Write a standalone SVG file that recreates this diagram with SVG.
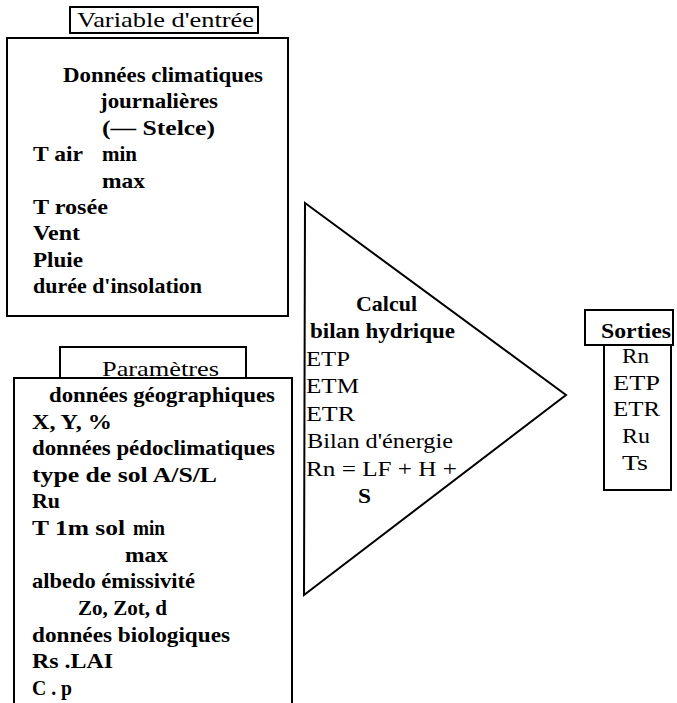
<svg xmlns="http://www.w3.org/2000/svg" width="677" height="703" viewBox="0 0 677 703">
<style>
 .box{fill:none;stroke:#000;stroke-width:2}
 .t{font-size:22px;fill:#000}
 .b{font-weight:bold}
</style>
<rect width="677" height="703" fill="#fff"/>
<g id="entree" font-family="'Liberation Serif', 'Times New Roman', 'DejaVu Serif', serif">
 <rect class="box" x="70" y="7" width="188" height="26"/>
 <text class="t" x="77" y="27" textLength="177" lengthAdjust="spacingAndGlyphs">Variable  d'entrée</text>
 <rect class="box" x="7" y="38" width="281" height="278"/>
 <text class="t b" x="63" y="82" textLength="200" lengthAdjust="spacingAndGlyphs">Données climatiques</text>
 <text class="t b" x="100" y="108" textLength="118" lengthAdjust="spacingAndGlyphs">journalières</text>
 <text class="t b" x="102" y="135" textLength="113" lengthAdjust="spacingAndGlyphs">(— Stelce)</text>
 <text class="t b" x="33" y="161" textLength="50" lengthAdjust="spacingAndGlyphs">T air</text>
 <text class="t b" x="102" y="161" textLength="35" lengthAdjust="spacingAndGlyphs">min</text>
 <text class="t b" x="102" y="188" textLength="43" lengthAdjust="spacingAndGlyphs">max</text>
 <text class="t b" x="33" y="214" textLength="75" lengthAdjust="spacingAndGlyphs">T rosée</text>
 <text class="t b" x="33" y="240" textLength="47" lengthAdjust="spacingAndGlyphs">Vent</text>
 <text class="t b" x="33" y="267" textLength="50" lengthAdjust="spacingAndGlyphs">Pluie</text>
 <text class="t b" x="33" y="293" textLength="169" lengthAdjust="spacingAndGlyphs">durée d'insolation</text>
</g>
<g id="parametres" font-family="'Liberation Serif', 'Times New Roman', 'DejaVu Serif', serif">
 <rect class="box" x="60" y="347" width="186" height="31"/>
 <text class="t" x="102" y="376" textLength="117" lengthAdjust="spacingAndGlyphs">Paramètres</text>
 <path class="box" d="M14,706 V378 H292 V706"/>
 <text class="t b" x="49" y="402" textLength="226" lengthAdjust="spacingAndGlyphs">données géographiques</text>
 <text class="t b" x="32" y="429" textLength="80" lengthAdjust="spacingAndGlyphs">X, Y, %</text>
 <text class="t b" x="32" y="455" textLength="243" lengthAdjust="spacingAndGlyphs">données pédoclimatiques</text>
 <text class="t b" x="32" y="482" textLength="185" lengthAdjust="spacingAndGlyphs">type de sol A/S/L</text>
 <text class="t b" x="32" y="508" textLength="28" lengthAdjust="spacingAndGlyphs">Ru</text>
 <text class="t b" x="32" y="535" textLength="93" lengthAdjust="spacingAndGlyphs">T 1m sol</text>
 <text class="t b" x="133" y="535" textLength="32" lengthAdjust="spacingAndGlyphs">min</text>
 <text class="t b" x="125" y="562" textLength="43" lengthAdjust="spacingAndGlyphs">max</text>
 <text class="t b" x="32" y="588" textLength="163" lengthAdjust="spacingAndGlyphs">albedo émissivité</text>
 <text class="t b" x="78" y="615" textLength="89" lengthAdjust="spacingAndGlyphs">Zo, Zot, d</text>
 <text class="t b" x="32" y="642" textLength="198" lengthAdjust="spacingAndGlyphs">données biologiques</text>
 <text class="t b" x="32" y="668" textLength="81" lengthAdjust="spacingAndGlyphs">Rs  .LAI</text>
 <text class="t b" x="32" y="695" textLength="40" lengthAdjust="spacingAndGlyphs">C . p</text>
</g>
<g id="calcul" font-family="'Liberation Serif', 'Times New Roman', 'DejaVu Serif', serif">
 <polygon class="box" points="305,203 566,395 304,595"/>
 <text class="t b" x="356" y="311" textLength="61" lengthAdjust="spacingAndGlyphs">Calcul</text>
 <text class="t b" x="310" y="338" textLength="145" lengthAdjust="spacingAndGlyphs">bilan hydrique</text>
 <text class="t" x="306" y="366" textLength="44" lengthAdjust="spacingAndGlyphs">ETP</text>
 <text class="t" x="306" y="393" textLength="53" lengthAdjust="spacingAndGlyphs">ETM</text>
 <text class="t" x="306" y="421" textLength="49" lengthAdjust="spacingAndGlyphs">ETR</text>
 <text class="t" x="307" y="448" textLength="146" lengthAdjust="spacingAndGlyphs">Bilan  d'énergie</text>
 <text class="t" x="306" y="476" textLength="151" lengthAdjust="spacingAndGlyphs">Rn  = LF + H +</text>
 <text class="t b" x="358" y="503" textLength="13" lengthAdjust="spacingAndGlyphs">S</text>
</g>
<g id="sorties" font-family="'Liberation Serif', 'Times New Roman', 'DejaVu Serif', serif">
 <rect class="box" x="585" y="310" width="88" height="35"/>
 <text class="t b" x="601" y="338" textLength="70" lengthAdjust="spacingAndGlyphs">Sorties</text>
 <rect class="box" x="604" y="345" width="67" height="145"/>
 <text class="t" x="622" y="363" textLength="27" lengthAdjust="spacingAndGlyphs">Rn</text>
 <text class="t" x="613" y="390" textLength="47" lengthAdjust="spacingAndGlyphs">ETP</text>
 <text class="t" x="613" y="416" textLength="47" lengthAdjust="spacingAndGlyphs">ETR</text>
 <text class="t" x="622" y="443" textLength="28" lengthAdjust="spacingAndGlyphs">Ru</text>
 <text class="t" x="622" y="470" textLength="26" lengthAdjust="spacingAndGlyphs">Ts</text>
</g>
<g id="connectors"/>
</svg>
